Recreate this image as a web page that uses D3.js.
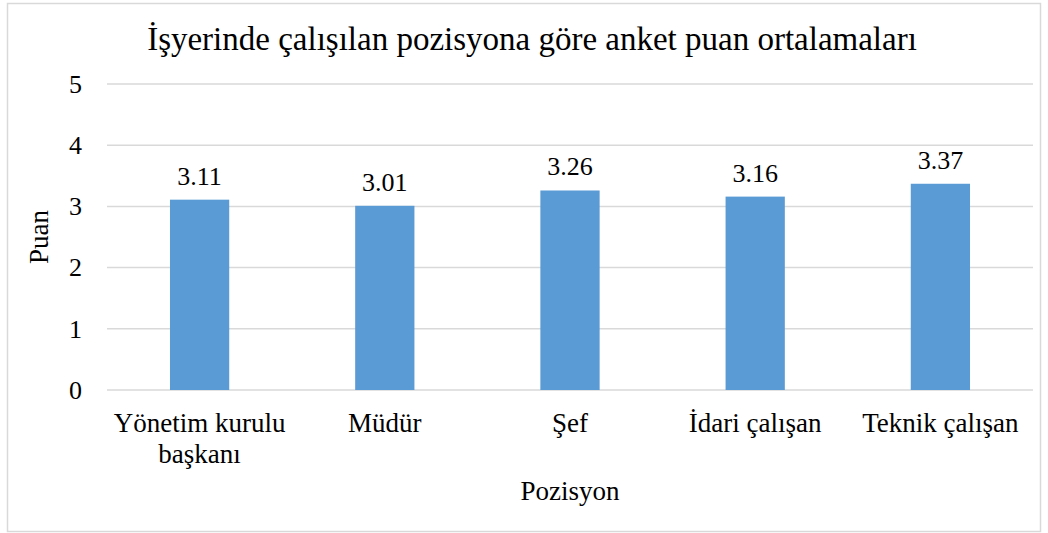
<!DOCTYPE html>
<html>
<head>
  <meta charset="utf-8">
  <title>anket puan ortalamaları</title>
  <style>
    * { margin: 0; padding: 0; }
    body { background: #fff; }
  </style>
</head>
<body>
  <svg id="chart"></svg>
  <script src="https://cdnjs.cloudflare.com/ajax/libs/d3/7.8.5/d3.min.js"></script>
  <script>
    const categories = ['Yönetim kurulu başkanı', 'Müdür', 'Şef', 'İdari çalışan', 'Teknik çalışan'];
    const labelLines = [['Yönetim kurulu', 'başkanı'], ['Müdür'], ['Şef'], ['İdari çalışan'], ['Teknik çalışan']];
    const values = [3.11, 3.01, 3.26, 3.16, 3.37];
    const yTicks = [0, 1, 2, 3, 4, 5];

    const width = 1048, height = 533;
    const margin = { top: 84, right: 15, bottom: 143, left: 107 };
    const serif = '"Liberation Serif", "Times New Roman", "DejaVu Serif", serif';

    const svg = d3.select('#chart').attr('width', width).attr('height', height);

    // chart frame
    svg.append('rect')
      .attr('x', 7.5).attr('y', 3.5)
      .attr('width', 1033).attr('height', 528)
      .attr('fill', '#fff')
      .attr('stroke', '#d9d9d9')
      .attr('stroke-width', 1.5);

    const x = d3.scaleBand()
      .domain(categories)
      .range([margin.left, width - margin.right])
      .paddingInner(0.68)
      .paddingOuter(0.34);

    const y = d3.scaleLinear()
      .domain([0, 5])
      .range([height - margin.bottom, margin.top]);

    // grid
    svg.append('g')
      .selectAll('line')
      .data(yTicks)
      .enter()
      .append('line')
      .attr('x1', margin.left)
      .attr('x2', width - margin.right)
      .attr('y1', d => y(d))
      .attr('y2', d => y(d))
      .attr('stroke', '#d9d9d9')
      .attr('stroke-width', 1.5);

    // y axis labels
    const yAxis = d3.axisLeft(y).tickValues(yTicks).tickFormat(d3.format('d')).tickSize(0).tickPadding(25);
    const yg = svg.append('g')
      .attr('transform', `translate(${margin.left}, 0)`)
      .call(yAxis)
      .attr('font-family', serif)
      .attr('font-size', 26);
    yg.select('.domain').remove();
    yg.selectAll('text').attr('fill', '#000');

    // bars
    svg.append('g')
      .selectAll('rect')
      .data(values)
      .enter()
      .append('rect')
      .attr('x', (d, i) => x(categories[i]))
      .attr('y', d => y(d))
      .attr('width', x.bandwidth())
      .attr('height', d => y(0) - y(d))
      .attr('fill', '#5b9bd5');

    const txt = svg.append('g')
      .attr('font-family', serif)
      .attr('font-size', 27)
      .attr('fill', '#000');

    // data labels
    txt.append('g')
      .selectAll('text')
      .data(values)
      .enter()
      .append('text')
      .attr('x', (d, i) => x(categories[i]) + x.bandwidth() / 2)
      .attr('y', d => y(d) - 15)
      .attr('text-anchor', 'middle')
      .attr('font-size', 26)
      .text(d => d.toFixed(2));

    // x labels
    const xl = txt.append('g')
      .selectAll('text')
      .data(labelLines)
      .enter()
      .append('text')
      .attr('x', (d, i) => x(categories[i]) + x.bandwidth() / 2)
      .attr('y', 432)
      .attr('text-anchor', 'middle');
    xl.selectAll('tspan')
      .data(d => d)
      .enter()
      .append('tspan')
      .attr('x', function () { return this.parentNode.getAttribute('x'); })
      .attr('dy', (d, i) => i === 0 ? 0 : 31)
      .text(d => d);

    // titles
    txt.append('text')
      .attr('x', 532)
      .attr('y', 50)
      .attr('text-anchor', 'middle')
      .attr('font-size', 33)
      .text('İşyerinde çalışılan pozisyona göre anket puan ortalamaları');

    txt.append('text')
      .attr('x', (margin.left + width - margin.right) / 2)
      .attr('y', 500)
      .attr('text-anchor', 'middle')
      .text('Pozisyon');

    txt.append('text')
      .attr('transform', `translate(48, 237) rotate(-90)`)
      .attr('text-anchor', 'middle')
      .text('Puan');
  </script>
</body>
</html>
